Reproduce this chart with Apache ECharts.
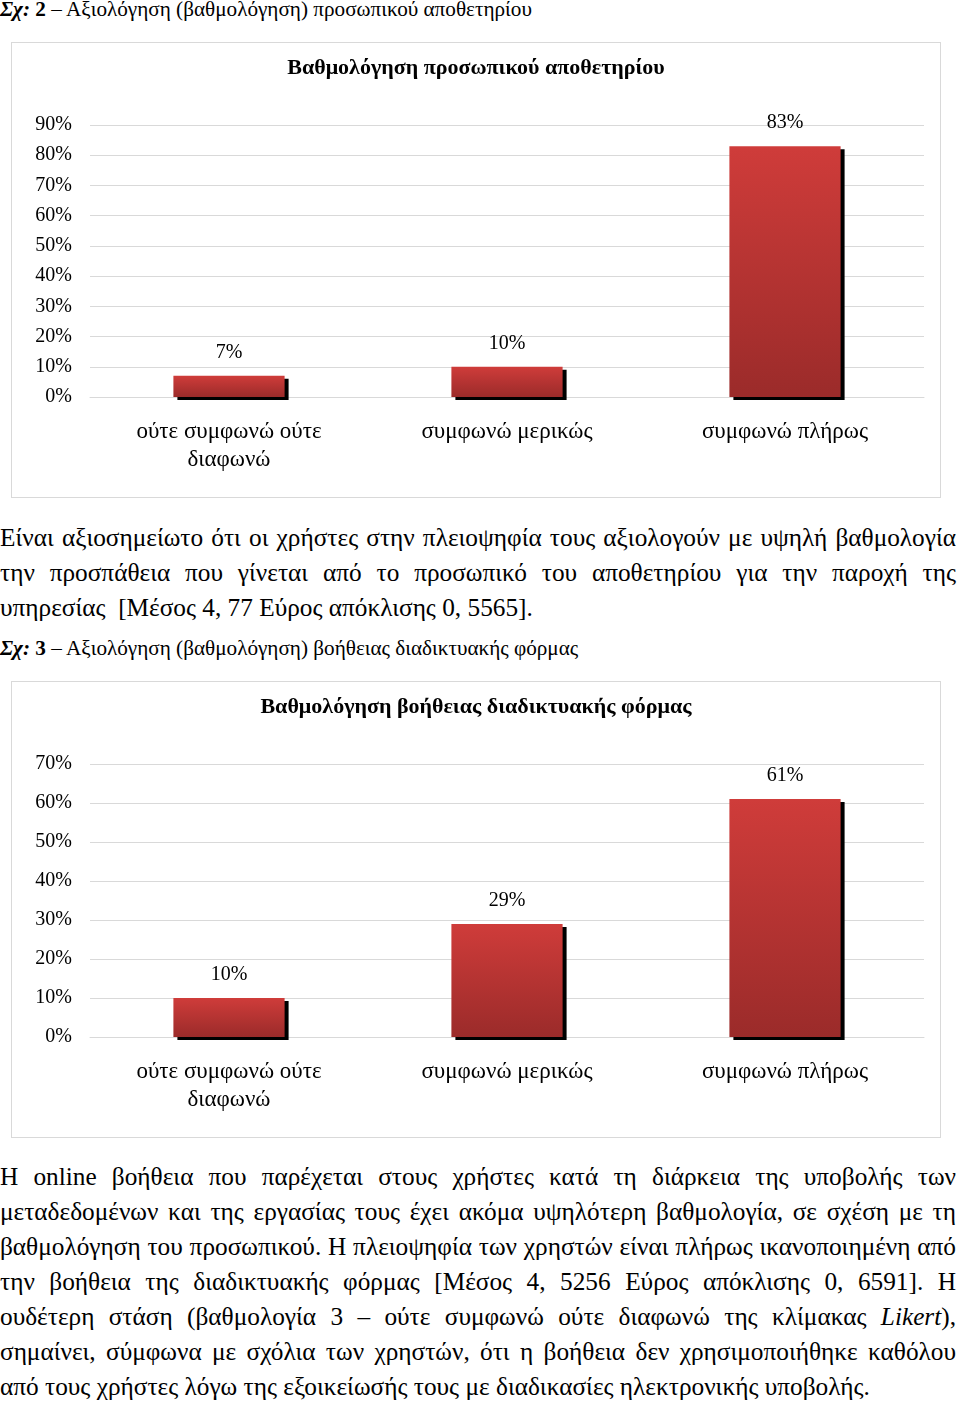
<!DOCTYPE html>
<html>
<head>
<meta charset="utf-8">
<script src="https://cdn.jsdelivr.net/npm/echarts@6/dist/echarts.min.js"></script>
<style>
  html, body { margin: 0; padding: 0; background: #fff; }
  body { width: 960px; height: 1402px; position: relative; overflow: hidden;
         font-family: "Liberation Serif", "Times New Roman", serif; color: #000; }
  .cap { position: absolute; left: 0; font-size: 21.2px; white-space: nowrap; line-height: 20px; }
  .chartbox { position: absolute; left: 11px; width: 928px; border: 1px solid #d9d9d9; }
  .para { position: absolute; left: 0; width: 956px; font-size: 25.3px; }
  .line { height: 35px; line-height: 35px; white-space: nowrap; text-align: justify; text-align-last: justify; }
  .line.last { text-align: left; text-align-last: left; }
</style>
</head>
<body>
<div class="cap" style="top:-1px"><b><i>Σχ:</i> 2</b> – Αξιολόγηση (βαθμολόγηση) προσωπικού αποθετηρίου</div>
<div id="c1" class="chartbox" style="top:42px;height:454px"></div>

<div class="para" style="top:520px">
  <div class="line">Είναι αξιοσημείωτο ότι οι χρήστες στην πλειοψηφία τους αξιολογούν με υψηλή βαθμολογία</div>
  <div class="line">την προσπάθεια που γίνεται από το προσωπικό του αποθετηρίου για την παροχή της</div>
  <div class="line last">υπηρεσίας&nbsp; [Μέσος 4, 77 Εύρος απόκλισης 0, 5565].</div>
</div>
<div class="cap" style="top:638px"><b><i>Σχ:</i> 3</b> – Αξιολόγηση (βαθμολόγηση) βοήθειας διαδικτυακής φόρμας</div>
<div id="c2" class="chartbox" style="top:681px;height:455px"></div>

<div class="para" style="top:1159px">
  <div class="line">Η online βοήθεια που παρέχεται στους χρήστες κατά τη διάρκεια της υποβολής των</div>
  <div class="line">μεταδεδομένων και της εργασίας τους έχει ακόμα υψηλότερη βαθμολογία, σε σχέση με τη</div>
  <div class="line">βαθμολόγηση του προσωπικού. Η πλειοψηφία των χρηστών είναι πλήρως ικανοποιημένη από</div>
  <div class="line">την βοήθεια της διαδικτυακής φόρμας [Μέσος 4, 5256 Εύρος απόκλισης 0, 6591]. Η</div>
  <div class="line">ουδέτερη στάση (βαθμολογία 3 – ούτε συμφωνώ ούτε διαφωνώ της κλίμακας <i>Likert</i>),</div>
  <div class="line">σημαίνει, σύμφωνα με σχόλια των χρηστών, ότι η βοήθεια δεν χρησιμοποιήθηκε καθόλου</div>
  <div class="line last">από τους χρήστες λόγω της εξοικείωσής τους με διαδικασίες ηλεκτρονικής υποβολής.</div>
</div>

<script>
// ---- data ----
const categories = ['ούτε συμφωνώ ούτε\nδιαφωνώ', 'συμφωνώ μερικώς', 'συμφωνώ πλήρως'];
const staffTitle = 'Βαθμολόγηση προσωπικού αποθετηρίου';
const staffValues = [7, 10, 83];
const staffAxisMax = 90;
const formTitle = 'Βαθμολόγηση βοήθειας διαδικτυακής φόρμας';
const formValues = [10, 29, 61];
const formAxisMax = 70;
const axisStep = 10;

const FONT = '"Liberation Serif", "Times New Roman", serif';

function makeOption(title, values, max) {
  return {
    animation: false,
    title: {
      text: title, left: 'center', top: 9,
      textStyle: { fontFamily: FONT, fontSize: 22, fontWeight: 'bold', color: '#000' }
    },
    grid: { left: 78, right: 16, top: 82, bottom: 100 },
    xAxis: {
      type: 'category', data: categories,
      axisLine: { show: true, lineStyle: { color: '#d9d9d9', width: 1 } },
      axisTick: { show: false },
      axisLabel: { fontFamily: FONT, fontSize: 23, color: '#000', margin: 21, lineHeight: 28, interval: 0 }
    },
    yAxis: {
      type: 'value', min: 0, max: max, interval: axisStep,
      axisLine: { show: false }, axisTick: { show: false },
      splitLine: { lineStyle: { color: '#d9d9d9', width: 1 } },
      axisLabel: { fontFamily: FONT, fontSize: 20, color: '#000', margin: 18, formatter: '{value}%' }
    },
    series: [{
      type: 'bar', data: values, barWidth: '40%',
      itemStyle: {
        color: new echarts.graphic.LinearGradient(0, 0, 0, 1, [
          { offset: 0, color: '#cf3c3a' },
          { offset: 1, color: '#9b2b2a' }
        ]),
        shadowColor: '#000', shadowBlur: 0, shadowOffsetX: 4, shadowOffsetY: 3
      },
      label: {
        show: true, position: 'top', distance: 13, formatter: '{c}%',
        fontFamily: FONT, fontSize: 20, color: '#000'
      }
    }]
  };
}

echarts.init(document.getElementById('c1')).setOption(makeOption(staffTitle, staffValues, staffAxisMax));
echarts.init(document.getElementById('c2')).setOption(makeOption(formTitle, formValues, formAxisMax));
</script>
</body>
</html>
